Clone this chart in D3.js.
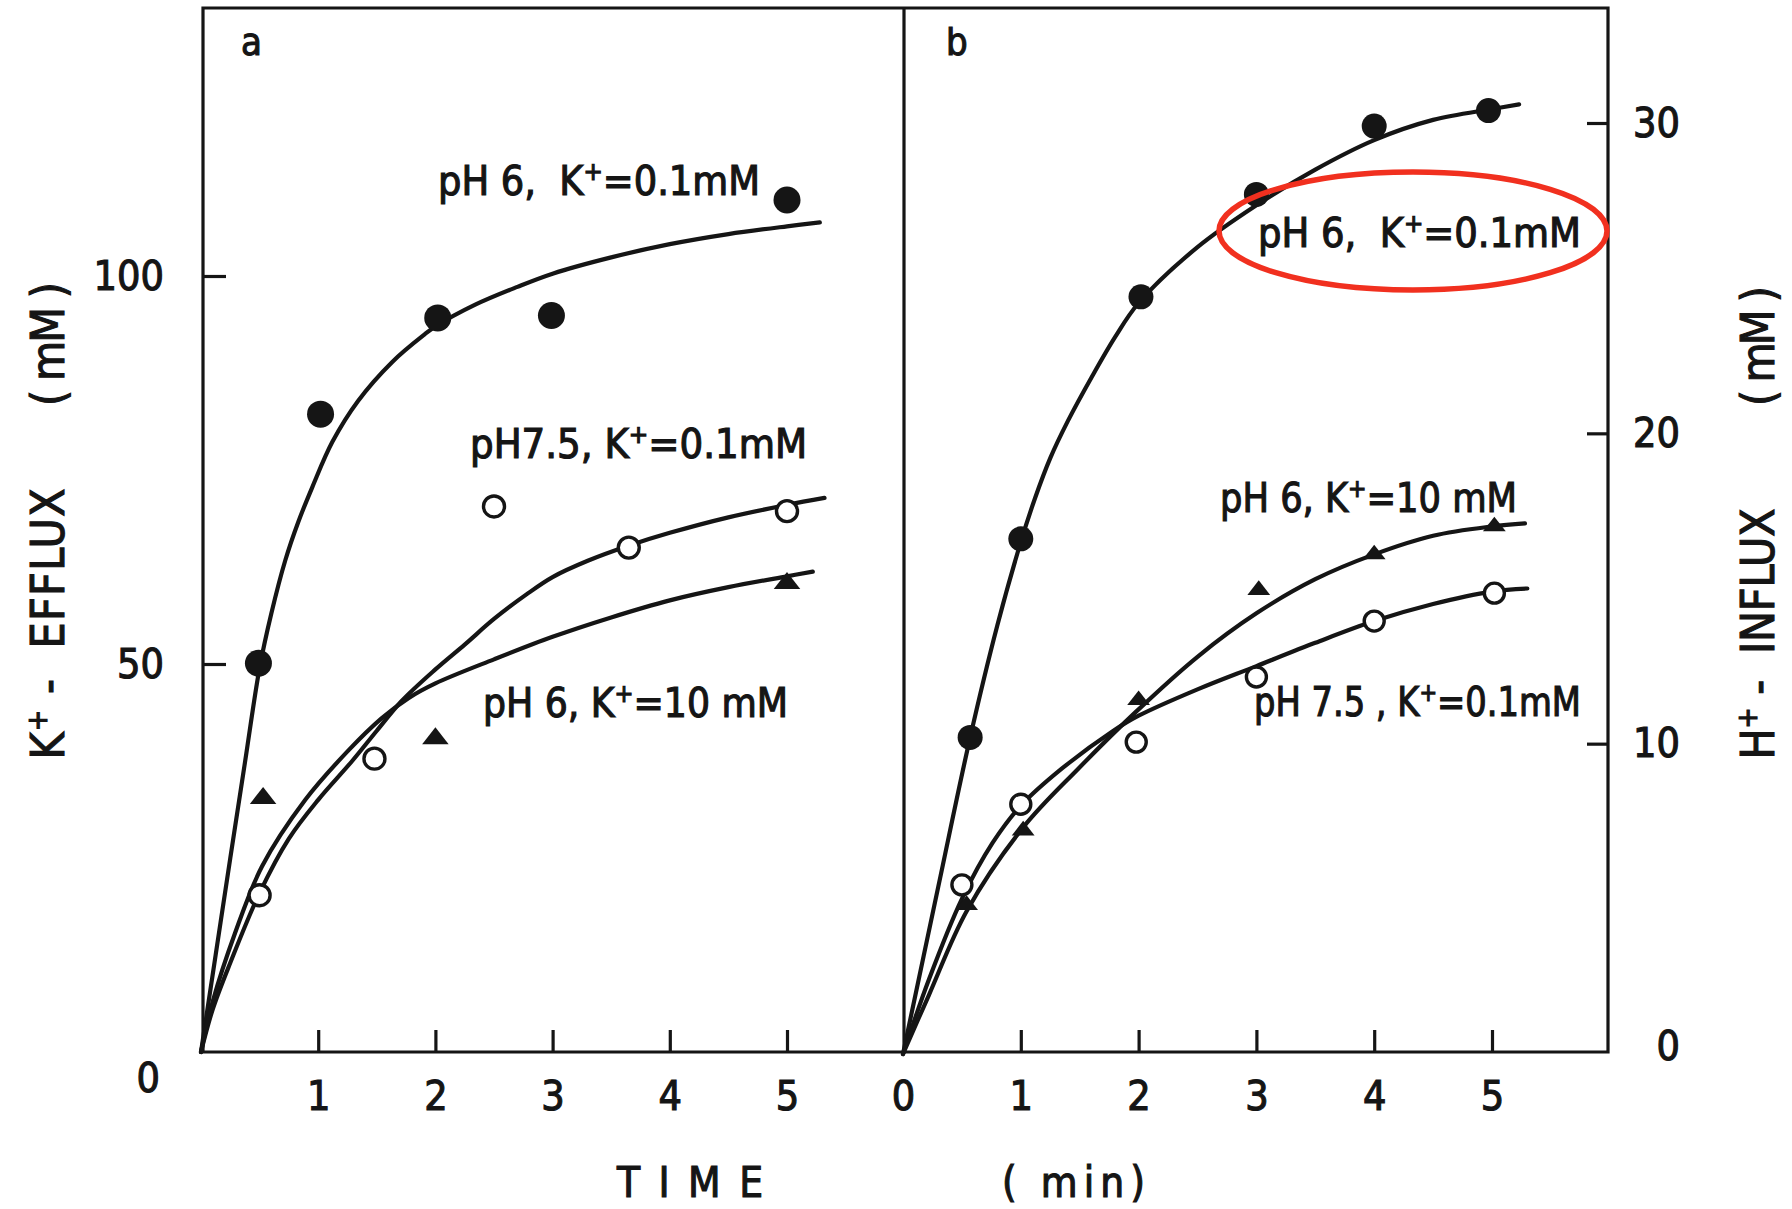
<!DOCTYPE html>
<html>
<head>
<meta charset="utf-8">
<script src="https://cdn.jsdelivr.net/npm/d3@7"></script>
<style>
  html, body { margin: 0; padding: 0; background: #fff; }
  svg { display: block; }
  text {
    font-family: "Liberation Sans Narrow", "DejaVu Sans Condensed", "Liberation Sans", sans-serif;
    fill: #151515;
    stroke: #151515;
    stroke-width: 1.1px;
    white-space: pre;
  }
</style>
</head>
<body>
<svg id="chart" width="1792" height="1209"></svg>
<script>
// ---- tick values ----
const timeTicksA = [1, 2, 3, 4, 5];
const timeTicksB = [0, 1, 2, 3, 4, 5];
const effluxTicks = [0, 50, 100];
const influxTicks = [0, 10, 20, 30];

// ---- panel a : K+ efflux (mM) vs time (min) ----
// measured points [time, value]
const aFilled = [[0.49, 50.1], [1.02, 82.2], [2.02, 94.6], [2.99, 94.9], [5.0, 109.8]];   // pH 6, K+ 0.1 mM
const aOpen = [[0.5, 20.2], [1.48, 37.8], [2.5, 70.3], [3.65, 65.0], [5.0, 69.7]];        // pH 7.5, K+ 0.1 mM
const aTri = [[0.53, 32.7], [2.0, 40.4], [5.0, 60.4]];                                     // pH 6, K+ 10 mM
// hand drawn fitted curves
const aFitFilled = [[0, 0], [0.125, 12.5], [0.25, 25], [0.375, 37.3], [0.5, 49.5], [0.6, 56.5], [0.72, 63.4],
  [0.83, 68.3], [0.95, 72.8], [1.12, 78.6], [1.34, 83.9], [1.63, 88.9], [1.91, 92.5], [2.0, 93.5], [2.34, 96.3],
  [2.7, 98.6], [3.0, 100.3], [3.5, 102.4], [4.0, 104.1], [4.5, 105.4], [5.0, 106.4], [5.28, 106.9]];
const aFitOpen = [[0, 0], [0.1, 5.5], [0.25, 11.5], [0.5, 20.5], [0.75, 27.5], [1.0, 32.5], [1.29, 37.5],
  [1.5, 41.4], [1.71, 45.2], [2.0, 49.3], [2.25, 52.5], [2.5, 55.8], [2.78, 59.0], [3.0, 61.2], [3.3, 63.3],
  [3.66, 65.3], [4.0, 66.9], [4.5, 68.9], [5.0, 70.5], [5.32, 71.4]];
const aFitTri = [[0, 0], [0.1, 6.5], [0.29, 15.3], [0.52, 23.9], [0.89, 32.5], [1.26, 38.9], [1.54, 43.0],
  [1.77, 45.6], [2.0, 47.5], [2.5, 50.6], [3.0, 53.5], [3.5, 56.0], [4.0, 58.2], [4.5, 59.9], [5.0, 61.3], [5.22, 61.9]];

// ---- panel b : H+ influx (mM) vs time (min) ----
const bFilled = [[0.57, 10.2], [1.0, 16.6], [2.02, 24.4], [3.0, 27.7], [4.0, 29.9], [4.97, 30.4]];
const bOpen = [[0.5, 5.45], [1.0, 8.05], [1.98, 10.05], [3.0, 12.15], [4.0, 13.95], [5.02, 14.85]];
const bTri = [[0.54, 4.8], [1.02, 7.2], [2.0, 11.4], [3.02, 14.95], [4.0, 16.1], [5.02, 17.0]];
const bFitFilled = [[0, 0], [0.3, 5.4], [0.57, 10.2], [0.8, 13.8], [1.0, 16.5], [1.12, 17.9], [1.25, 19.2],
  [1.4, 20.4], [1.6, 21.8], [1.8, 23.1], [2.0, 24.2], [2.5, 26.0], [3.0, 27.35], [3.5, 28.5], [4.0, 29.45],
  [4.5, 30.1], [5.0, 30.45], [5.23, 30.6]];
const bFitOpen = [[0, 0], [0.22, 2.4], [0.5, 5.0], [0.76, 6.8], [1.0, 8.0], [1.35, 9.2], [1.78, 10.4],
  [2.0, 10.9], [2.5, 11.75], [3.0, 12.5], [3.5, 13.25], [4.0, 13.95], [4.5, 14.5], [5.0, 14.9], [5.3, 15.0]];
const bFitTri = [[0, 0], [0.22, 1.9], [0.54, 4.6], [1.02, 7.3], [1.49, 9.2], [1.97, 11.0], [2.5, 12.8],
  [3.0, 14.2], [3.5, 15.3], [4.0, 16.1], [4.5, 16.7], [5.0, 17.0], [5.28, 17.1]];

// ---- labels ----
const panelNames = ['a', 'b'];
const curveLabelsA = [['pH 6,  K', '=0.1mM'], ['pH7.5, K', '=0.1mM'], ['pH 6, K', '=10 mM']];
const curveLabelsB = [['pH 6,  K', '=0.1mM'], ['pH 6, K', '=10 mM'], ['pH 7.5 , K', '=0.1mM']];

const ink = '#151515';
const svg = d3.select('#chart');

// scales (pixel layout of the original figure)
const xA = d3.scaleLinear().domain([0, 5]).range([201, 787]);
const yA = d3.scaleLinear().domain([0, 100]).range([1052, 276]);
const xB = d3.scaleLinear().domain([0, 5]).range([903, 1492]);
const yB = d3.scaleLinear().domain([0, 30]).range([1054, 123]);

const frameTop = 8, frameBottom = 1052, frameLeft = 203, frameMid = 904, frameRight = 1608;

// ---- frame ----
svg.append('path')
  .attr('d', `M${frameLeft},${frameTop}H${frameRight}V${frameBottom}H${frameLeft}Z M${frameMid},${frameTop}V${frameBottom}`)
  .attr('fill', 'none')
  .attr('stroke', ink)
  .attr('stroke-width', 3.2);

function styleAxis(g) {
  g.select('.domain').remove();
  g.selectAll('.tick line').attr('stroke', ink).attr('stroke-width', 3.2);
  g.selectAll('.tick text')
    .attr('font-size', 41)
    .attr('font-family', null)
    .attr('fill', ink);
}

// x axes (ticks point inward, labels below)
svg.append('g')
  .attr('transform', `translate(0,${frameBottom})`)
  .call(d3.axisBottom(xA).tickValues(timeTicksA).tickSize(-22).tickPadding(29).tickFormat(d3.format('d')))
  .call(styleAxis);

svg.append('g')
  .attr('transform', `translate(0,${frameBottom})`)
  .call(d3.axisBottom(xB).tickValues(timeTicksB).tickSize(-22).tickPadding(29).tickFormat(d3.format('d')))
  .call(styleAxis)
  .call(g => g.selectAll('.tick').filter(d => d === 0).select('line').remove());

// left y axis
svg.append('g')
  .attr('transform', `translate(${frameLeft},0)`)
  .call(d3.axisLeft(yA).tickValues(effluxTicks).tickSize(-23).tickPadding(39))
  .call(styleAxis)
  .call(g => {
    const zero = g.selectAll('.tick').filter(d => d === 0);
    zero.select('line').remove();
    zero.select('text').attr('y', 26).attr('x', -43);
  });

// right y axis
svg.append('g')
  .attr('transform', `translate(${frameRight},0)`)
  .call(d3.axisRight(yB).tickValues(influxTicks).tickSize(-21))
  .call(styleAxis)
  .call(g => {
    g.selectAll('.tick text').attr('text-anchor', 'end').attr('x', 72);
    const zero = g.selectAll('.tick').filter(d => d === 0);
    zero.select('line').remove();
    zero.select('text').attr('y', -8);
  });

// ---- curves and points ----
function drawPanel(x, y, fits, filled, open, tri, r) {
  const line = d3.line()
    .x(d => x(d[0]))
    .y(d => y(d[1]))
    .curve(d3.curveCatmullRom.alpha(0.5));

  const g = svg.append('g');

  g.selectAll('path.fit')
    .data(fits)
    .join('path')
    .attr('class', 'fit')
    .attr('d', line)
    .attr('fill', 'none')
    .attr('stroke', ink)
    .attr('stroke-width', 4.2)
    .attr('stroke-linecap', 'round');

  g.selectAll('path.tri')
    .data(tri)
    .join('path')
    .attr('class', 'tri')
    .attr('transform', d => `translate(${x(d[0])},${y(d[1])}) scale(1.15,0.85)`)
    .attr('d', d3.symbol().type(d3.symbolTriangle).size(r.tri))
    .attr('fill', ink);

  g.selectAll('circle.open')
    .data(open)
    .join('circle')
    .attr('class', 'open')
    .attr('cx', d => x(d[0]))
    .attr('cy', d => y(d[1]))
    .attr('r', r.open)
    .attr('fill', '#fff')
    .attr('stroke', ink)
    .attr('stroke-width', 3.4);

  g.selectAll('circle.filled')
    .data(filled)
    .join('circle')
    .attr('class', 'filled')
    .attr('cx', d => x(d[0]))
    .attr('cy', d => y(d[1]))
    .attr('r', r.filled)
    .attr('fill', ink);
}

drawPanel(xA, yA, [aFitFilled, aFitOpen, aFitTri], aFilled, aOpen, aTri, { filled: 13.5, open: 10.5, tri: 230 });
drawPanel(xB, yB, [bFitFilled, bFitOpen, bFitTri], bFilled, bOpen, bTri, { filled: 12.5, open: 10, tri: 170 });

// ---- text ----
function curveLabel(px, py, parts, width) {
  const t = svg.append('text')
    .attr('x', px)
    .attr('y', py)
    .attr('font-size', 40)
    .attr('textLength', width)
    .attr('lengthAdjust', 'spacingAndGlyphs');
  t.append('tspan').text(parts[0]);
  t.append('tspan').attr('dy', -15).attr('font-size', 25).text('+');
  t.append('tspan').attr('dy', 15).text(parts[1]);
}

const labelPosA = [[438, 195, 322], [470, 458, 337], [483, 717, 305]];
const labelPosB = [[1258, 247, 323], [1220, 512, 297], [1254, 716, 327]];
curveLabelsA.forEach((p, i) => curveLabel(labelPosA[i][0], labelPosA[i][1], p, labelPosA[i][2]));
curveLabelsB.forEach((p, i) => curveLabel(labelPosB[i][0], labelPosB[i][1], p, labelPosB[i][2]));

svg.append('text').attr('x', 241).attr('y', 55).attr('font-size', 38).text(panelNames[0]);
svg.append('text').attr('x', 946).attr('y', 55).attr('font-size', 38).text(panelNames[1]);

// x axis titles
svg.append('text').attr('x', 617).attr('y', 1197).attr('font-size', 42)
  .attr('textLength', 146).text('TIME');
svg.append('text').attr('x', 1002).attr('y', 1197).attr('font-size', 42)
  .attr('textLength', 143).text('( min)');

// rotated y axis titles
function yTitle(px, cy, parts, lengths) {
  const g = svg.append('g').attr('transform', `translate(${px},0)`);
  g.append('text')
    .attr('transform', `translate(0,${cy[0]}) rotate(-90)`)
    .attr('text-anchor', 'middle')
    .attr('font-size', 46)
    .attr('textLength', lengths[0])
    .call(t => {
      t.append('tspan').text(parts[0]);
      t.append('tspan').attr('dy', -17).attr('font-size', 28).text('+');
      t.append('tspan').attr('dy', 17).text(parts[1]);
    });
  g.append('text')
    .attr('transform', `translate(0,${cy[1]}) rotate(-90)`)
    .attr('text-anchor', 'middle')
    .attr('font-size', 46)
    .attr('textLength', lengths[1])
    .text(parts[2]);
}

yTitle(64, [624, 344], ['K', ' -  EFFLUX', '( mM )'], [271, 124]);
yTitle(1774, [634, 346], ['H', ' -  INFLUX', '( mM )'], [251, 120]);

// red annotation ellipse
svg.append('ellipse')
  .attr('cx', 1413)
  .attr('cy', 231)
  .attr('rx', 194)
  .attr('ry', 59)
  .attr('fill', 'none')
  .attr('stroke', '#f1301f')
  .attr('stroke-width', 5.5);
</script>
</body>
</html>
